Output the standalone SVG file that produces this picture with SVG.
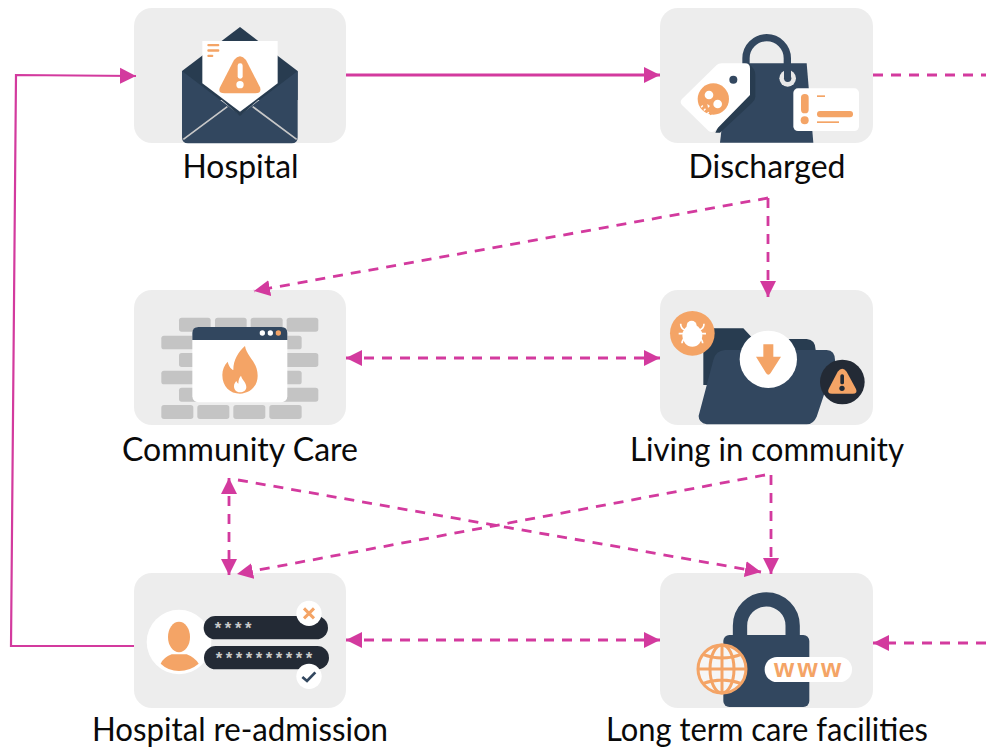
<svg xmlns="http://www.w3.org/2000/svg" width="986" height="748" viewBox="0 0 986 748">
<style>
.box{fill:#ededed}
.lab{font-family:"Lato","Liberation Sans",sans-serif;font-size:33px;fill:#0a0a0a}
.navy{fill:#32475f}.dnavy{fill:#283c50}.or{fill:#f4a466}.wh{fill:#fff}.ink{fill:#232a35}.brick{fill:#c4c4c4}
.sol{fill:none;stroke:#d33a9e;stroke-width:2.8}
.sol2{fill:none;stroke:#d33a9e;stroke-width:2.2}
.dash{fill:none;stroke:#d33a9e;stroke-width:2.8;stroke-dasharray:10 8}
</style>
<defs>
<marker id="ah" markerUnits="userSpaceOnUse" markerWidth="18" markerHeight="18" refX="16" refY="8.500" orient="auto-start-reverse"><path d="M0 0.500L16 8.500L0 16.500Z" fill="#d33a9e"/></marker>
</defs>
<rect width="986" height="748" fill="#fff"/>

<g id="hospital">
<rect class="box" x="134" y="8" width="212" height="135" rx="18"/>
<g transform="translate(130,0) scale(.33333)">
<path class="dnavy" d="M156 213L330 81L503 213L503 300L156 300Z"/>
<path class="navy" d="M156 213L330 345L503 213V412Q503 430 485 430H174Q156 430 156 412Z"/>
<path class="dnavy" d="M217 250L330 348L443 250Z"/>
<path d="M160 418L292 320M500 418L368 320" fill="none" stroke="#c8c8c8" stroke-width="5"/>
<path class="wh" d="M217 123H443V250L330 335L217 250Z"/>
<g class="or"><rect x="232" y="132" width="36" height="7" rx="3"/><rect x="232" y="148" width="36" height="7" rx="3"/><rect x="232" y="164" width="18" height="7" rx="3"/></g>
<path class="or" d="M312 180Q330 158 348 180L390 262Q396 280 376 280H284Q262 280 270 262Z"/>
<rect class="wh" x="323" y="190" width="15" height="46" rx="7"/><circle class="wh" cx="330" cy="254" r="11"/>
</g>
<text class="lab" x="240.500" y="178" text-anchor="middle" textLength="116" lengthAdjust="spacingAndGlyphs">Hospital</text>
</g>

<g id="discharged">
<rect class="box" x="660" y="8" width="213" height="135" rx="18"/>
<g transform="translate(650,0) scale(.33333)">
<path d="M288 195V175A62 62 0 0 1 412 175V225" fill="none" stroke="#32475f" stroke-width="22"/>
<path class="navy" d="M290 190H470L490 428H210L225 300Z"/>
<circle cx="413" cy="235" r="25" fill="#e8e8e8"/><circle class="navy" cx="413" cy="235" r="11"/>
<rect class="navy" x="402" y="200" width="21" height="35"/>
<path class="dnavy" d="M296 192Q316 205 316 225V290Q316 300 305 310L210 398H196Z"/>
<path class="wh" d="M96 297L200 195Q205 190 215 190H285Q300 190 300 205V285L195 392Q185 400 175 392L96 315Q88 306 96 297Z"/>
<circle class="navy" cx="250" cy="239" r="12"/>
<circle class="or" cx="190" cy="297" r="47"/>
<path class="or" d="M146 312L162 298L198 332L182 346Z"/>
<circle class="wh" cx="177" cy="285" r="13"/><circle class="wh" cx="203" cy="312" r="13"/>
<path class="wh" d="M152 320l5-5 3 3-5 5zM160 330l5-5 3 3-5 5zM170 340l5-5 3 3-5 5zM172 312l8 6-6 6z"/>
<rect class="wh" x="430" y="265" width="197" height="128" rx="14"/>
<rect class="or" x="453" y="282" width="23" height="58" rx="11"/><circle class="or" cx="464" cy="361" r="12"/>
<rect class="or" x="501" y="286" width="24" height="5"/><rect class="or" x="501" y="333" width="108" height="19" rx="9"/><rect class="or" x="501" y="364" width="66" height="5"/>
</g>
<text class="lab" x="767" y="178" text-anchor="middle" textLength="157" lengthAdjust="spacingAndGlyphs">Discharged</text>
</g>

<g id="community-care">
<rect class="box" x="134" y="290" width="212" height="135" rx="18"/>
<g transform="translate(130,285) scale(.33333)">
<g class="brick">
<rect x="147" y="98" width="95" height="42" rx="8"/><rect x="255" y="98" width="95" height="42" rx="8"/><rect x="362" y="98" width="96" height="42" rx="8"/><rect x="470" y="98" width="95" height="42" rx="8"/>
<rect x="94" y="152" width="110" height="41" rx="8"/><rect x="440" y="152" width="75" height="41" rx="8"/>
<rect x="147" y="204" width="60" height="42" rx="8"/><rect x="450" y="204" width="115" height="42" rx="8"/>
<rect x="94" y="257" width="110" height="41" rx="8"/><rect x="440" y="257" width="75" height="41" rx="8"/>
<rect x="147" y="308" width="60" height="42" rx="8"/><rect x="450" y="308" width="115" height="42" rx="8"/>
<rect x="94" y="360" width="96" height="42" rx="8"/><rect x="202" y="360" width="96" height="42" rx="8"/><rect x="310" y="360" width="96" height="42" rx="8"/><rect x="418" y="360" width="97" height="42" rx="8"/>
</g>
<rect class="wh" x="187" y="126" width="285" height="226" rx="18"/>
<path class="navy" d="M187 165V144Q187 126 205 126H454Q472 126 472 144V165Z"/>
<circle class="wh" cx="397" cy="144" r="8"/><circle class="wh" cx="421" cy="144" r="8"/><circle class="or" cx="445" cy="144" r="8"/>
<path class="or" d="M345 183C350 215 383 230 383 272C383 305 358 326 330 326C300 326 277 305 277 270C277 255 283 240 293 230C297 245 303 252 310 255C310 225 325 200 345 183Z"/>
<path class="wh" d="M333 272C336 285 349 292 349 306C349 316 340 322 330 322C318 322 312 314 312 304C312 296 316 292 319 288C321 293 323 295 325 296C325 285 328 278 333 272Z"/>
</g>
<text class="lab" x="240" y="461" text-anchor="middle" textLength="236" lengthAdjust="spacingAndGlyphs">Community Care</text>
</g>

<g id="living-in-community">
<rect class="box" x="660" y="290" width="213" height="135" rx="18"/>
<g transform="translate(650,285) scale(.33333)">
<path class="dnavy" d="M160 345V150Q160 130 180 130H280L310 162H470Q497 164 497 195V300H160Z"/>
<path class="navy" d="M225 195H530Q557 197 555 230L500 395Q490 418 470 418H170Q145 412 146 392L190 225Q197 197 225 195Z"/>
<circle class="wh" cx="355" cy="223" r="86"/>
<path class="or" d="M340 178H370V215H393L362 264Q355 274 348 264L318 215H340Z"/>
<circle class="or" cx="127" cy="145" r="67"/>
<ellipse class="wh" cx="127" cy="152" rx="30" ry="33"/><circle class="wh" cx="125" cy="122" r="15"/>
<path d="M92 116Q92 130 105 135M162 116Q162 130 148 135M86 146H168M96 175Q96 165 105 160M158 175Q158 165 150 160" fill="none" stroke="#fff" stroke-width="5"/>
<circle class="ink" cx="577" cy="291" r="67"/>
<path class="or" d="M563 260Q577 243 590 260L618 312Q624 326 608 326H546Q530 326 536 312Z"/>
<rect class="ink" x="571" y="268" width="11" height="30" rx="5"/><circle class="ink" cx="576" cy="310" r="8"/>
</g>
<text class="lab" x="767" y="461" text-anchor="middle" textLength="274" lengthAdjust="spacingAndGlyphs">Living in community</text>
</g>

<g id="hospital-readmission">
<rect class="box" x="134" y="573" width="212" height="135" rx="18"/>
<g transform="translate(130,565) scale(.33333)">
<circle class="wh" cx="147" cy="231" r="97"/>
<ellipse class="or" cx="147" cy="216" rx="33" ry="46"/>
<path class="or" d="M92 296Q100 278 125 268L170 268Q195 278 206 296Q180 318 147 318Q115 318 92 296Z"/>
<rect class="ink" x="221" y="153" width="373" height="70" rx="35"/>
<rect class="ink" x="222" y="243" width="375" height="70" rx="35"/>
<text x="254" y="208" font-family="'Liberation Sans',sans-serif" font-size="50" font-weight="700" fill="#c9c9c9" letter-spacing="11">****</text>
<text x="257" y="298" font-family="'Liberation Sans',sans-serif" font-size="50" font-weight="700" fill="#c9c9c9" letter-spacing="10.600">**********</text>
<circle class="wh" cx="537" cy="145" r="38"/>
<path d="M522 130L552 160M552 130L522 160" stroke="#f4a466" stroke-width="9" fill="none"/>
<circle class="wh" cx="537" cy="334" r="38"/>
<path d="M517 336L531 348L556 322" stroke="#32475f" stroke-width="8" fill="none"/>
</g>
<text class="lab" x="240" y="741" text-anchor="middle" textLength="296" lengthAdjust="spacingAndGlyphs">Hospital re-admission</text>
</g>

<g id="long-term-care">
<rect class="box" x="660" y="573" width="213" height="135" rx="18"/>
<g transform="translate(650,565) scale(.33333)">
<path d="M270 215V182A79 79 0 0 1 428 182V215" fill="none" stroke="#32475f" stroke-width="43"/>
<rect class="navy" x="220" y="210" width="258" height="216" rx="18"/>
<circle cx="216" cy="312" r="72" fill="#f6f6f6" stroke="#f4a466" stroke-width="9"/>
<g fill="none" stroke="#f4a466" stroke-width="9">
<ellipse cx="216" cy="312" rx="36" ry="72"/><path d="M216 240V384M144 312H288M158 268Q216 290 274 268M158 356Q216 334 274 356"/>
</g>
<rect class="wh" x="344" y="276" width="262" height="75" rx="37"/>
<text x="478" y="335" text-anchor="middle" font-family="'Liberation Sans',sans-serif" font-size="78" font-weight="700" fill="#f4a466" letter-spacing="10">www</text>
</g>
<text class="lab" x="767" y="741" text-anchor="middle" textLength="322" lengthAdjust="spacingAndGlyphs">Long term care facilities</text>
</g>

<g id="connectors">
<path class="sol" d="M346 75H660" marker-end="url(#ah)"/>
<path class="sol2" d="M134 646H11L16 75L136 76" marker-end="url(#ah)"/>
<path class="dash" d="M873 75H986"/>
<path class="dash" d="M768 198V297" marker-end="url(#ah)"/>
<path class="dash" d="M768 198L254 291" marker-end="url(#ah)"/>
<path class="dash" d="M346 358H660" marker-start="url(#ah)" marker-end="url(#ah)"/>
<path class="dash" d="M238 480L761 572" marker-end="url(#ah)"/>
<path class="dash" d="M771 475V574" marker-end="url(#ah)"/>
<path class="dash" d="M765 475L237 574" marker-end="url(#ah)"/>
<path class="dash" d="M229 478V575" marker-start="url(#ah)" marker-end="url(#ah)"/>
<path class="dash" d="M346 640H660" marker-start="url(#ah)" marker-end="url(#ah)"/>
<path class="dash" d="M986 643H873" marker-end="url(#ah)"/>
</g>
</svg>
